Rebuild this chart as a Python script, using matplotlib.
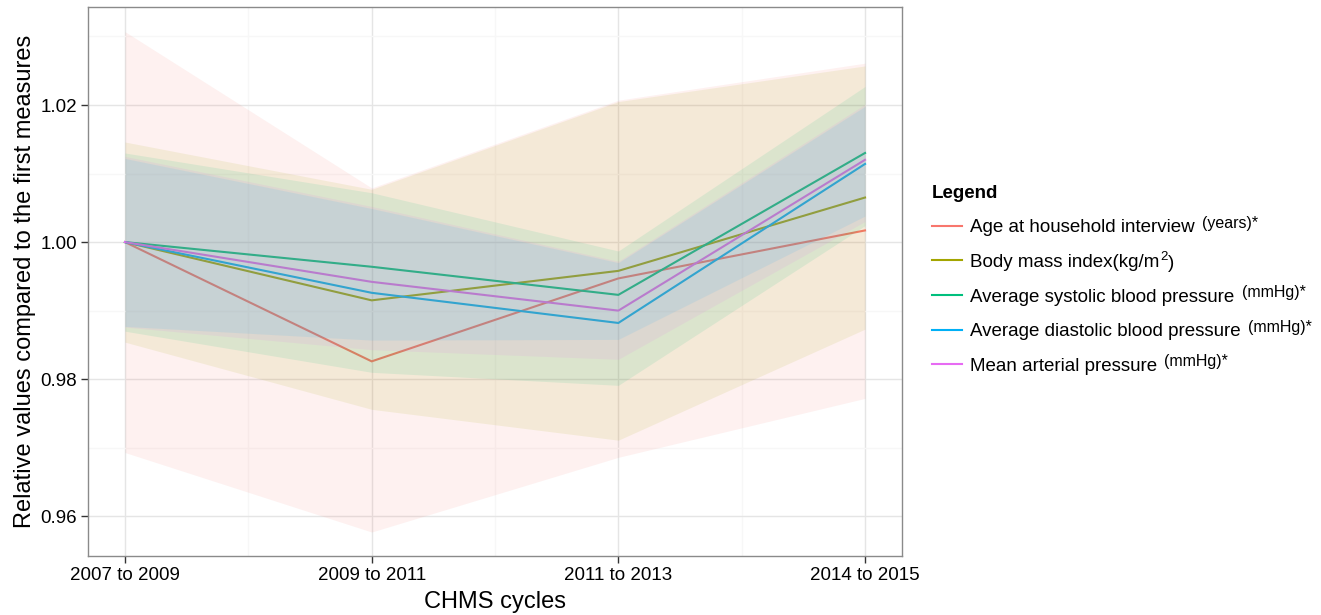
import matplotlib
matplotlib.use("Agg")
import matplotlib.pyplot as plt
from matplotlib.lines import Line2D
from matplotlib.text import Annotation
from matplotlib.ticker import FixedLocator, FormatStrFormatter

plt.rcParams['font.family'] = ['Liberation Sans', 'DejaVu Sans']

# ---------------- data ----------------
cycles = ["2007 to 2009", "2009 to 2011", "2011 to 2013", "2014 to 2015"]
x_pos = [1, 2, 3, 4]

label_main = [
    "Age at household interview",
    "Body mass index(kg/m",
    "Average systolic blood pressure",
    "Average diastolic blood pressure",
    "Mean arterial pressure",
]
label_unit = ["(years)*", "", "(mmHg)*", "(mmHg)*", "(mmHg)*"]
colors = ["#F8766D", "#A3A500", "#00BF7D", "#00B0F6", "#E76BF3"]

age_mean = [1.000, 0.9826, 0.9947, 1.0017]
age_upper = [1.0307, 1.0079, 1.0207, 1.0261]
age_lower = [0.9693, 0.9577, 0.9686, 0.9772]

bmi_mean = [1.000, 0.9915, 0.9958, 1.0065]
bmi_upper = [1.0146, 1.0077, 1.0205, 1.0257]
bmi_lower = [0.9854, 0.9756, 0.9711, 0.9873]

sys_mean = [1.000, 0.9964, 0.9923, 1.0130]
sys_upper = [1.0130, 1.0072, 0.9987, 1.0227]
sys_lower = [0.9870, 0.9810, 0.9791, 1.0024]

dia_mean = [1.000, 0.9926, 0.9882, 1.0114]
dia_upper = [1.0122, 1.0049, 0.9970, 1.0198]
dia_lower = [0.9877, 0.9857, 0.9858, 1.0038]

map_mean = [1.000, 0.9942, 0.9900, 1.0120]
map_upper = [1.0125, 1.0052, 0.9972, 1.0201]
map_lower = [0.9876, 0.9843, 0.9829, 1.0030]

means = [age_mean, bmi_mean, sys_mean, dia_mean, map_mean]
uppers = [age_upper, bmi_upper, sys_upper, dia_upper, map_upper]
lowers = [age_lower, bmi_lower, sys_lower, dia_lower, map_lower]

y_major = [0.96, 0.98, 1.00, 1.02]
y_minor = [0.97, 0.99, 1.01, 1.03]

# ---------------- figure ----------------
fig = plt.figure(figsize=(13.21, 6.15), dpi=100)
ax = fig.add_axes([88 / 1321, 1 - 556 / 615, (902 - 88) / 1321, (556 - 7) / 615])

# lines first (ribbons drawn over them, as in the source)
for m, c in zip(means, colors):
    ax.plot(x_pos, m, color=c, lw=1.5, zorder=2, solid_joinstyle='miter')
for lo, up, c in zip(lowers, uppers, colors):
    ax.fill_between(x_pos, lo, up, color=c, alpha=0.1, lw=0, zorder=3)

ax.set_xlim(0.85, 4.15)
ax.set_ylim(0.9542, 1.0343)
ax.set_xticks(x_pos)
ax.set_xticklabels(cycles)
ax.xaxis.set_minor_locator(FixedLocator([1.5, 2.5, 3.5]))
ax.yaxis.set_major_locator(FixedLocator(y_major))
ax.yaxis.set_minor_locator(FixedLocator(y_minor))
ax.yaxis.set_major_formatter(FormatStrFormatter('%.2f'))

ax.set_axisbelow(True)
ax.grid(which='major', color='#e5e5e5', lw=1.0)
ax.grid(which='minor', color='#f7f7f7', lw=1.0)
ax.tick_params(which='minor', length=0)
ax.tick_params(which='major', length=5, width=1, color='#333333',
               labelsize=13.5, labelcolor='black', pad=3)
for s in ax.spines.values():
    s.set_color('#8a8a8a')
    s.set_linewidth(1.0)

ax.set_xlabel("CHMS cycles", fontsize=17, labelpad=5)
ax.set_ylabel("Relative values compared to the first measures", fontsize=17, labelpad=3)

handles = [Line2D([0], [0], color=c, lw=1.5) for c in colors]
leg = ax.legend(handles, label_main, title="Legend", loc='upper left',
                bbox_to_anchor=(915 / 1321, 1 - 168 / 615),
                bbox_transform=fig.transFigure, frameon=False,
                fontsize=13.5, title_fontsize=13.5, handlelength=1.6,
                handletextpad=0.45, labelspacing=0.93, alignment='left')
leg.get_title().set_fontweight('bold')

texts = leg.get_texts()
# smaller, raised unit annotations after the legend labels
for t, unit in zip(texts, label_unit):
    if unit:
        ann = Annotation(unit, xy=(1, 0), xycoords=t, xytext=(5, 4.0),
                         textcoords='offset points', fontsize=11.5,
                         ha='left', va='bottom')
        fig.add_artist(ann)

# superscript 2 and closing parenthesis for the BMI label
sup2 = Annotation("2", xy=(1, 0), xycoords=texts[1], xytext=(0.2, 6.0),
                  textcoords='offset points', fontsize=9.5, ha='left', va='bottom')
fig.add_artist(sup2)
close_p = Annotation(")", xy=(1, 0), xycoords=sup2, xytext=(0.2, -6.6),
                     textcoords='offset points', fontsize=13.5, ha='left', va='bottom')
fig.add_artist(close_p)

fig.savefig("out.png", dpi=100)
